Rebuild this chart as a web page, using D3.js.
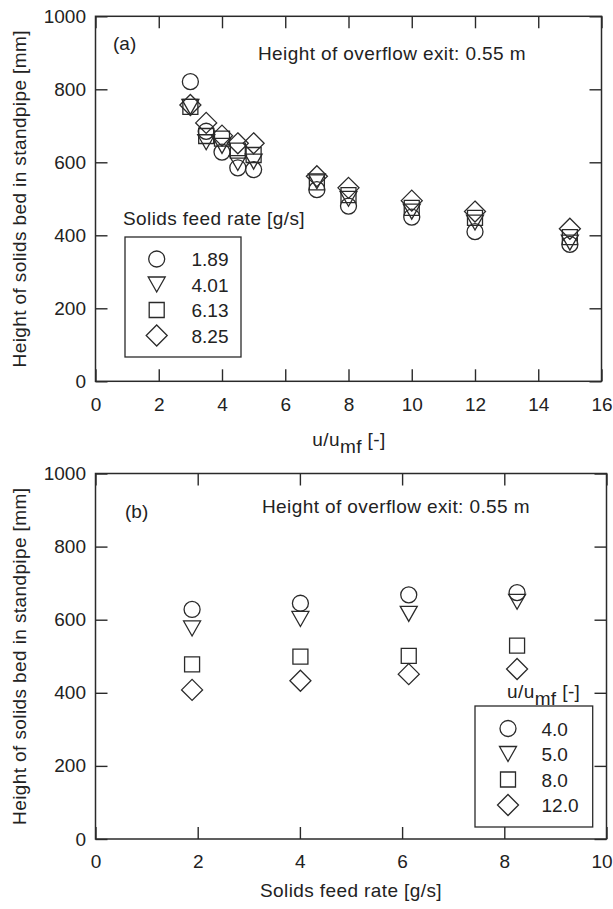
<!DOCTYPE html>
<html>
<head>
	<style>
		body { margin: 0; background: #fff; }
		svg { display: block; }
		text { font-family: "Liberation Sans", Arial, sans-serif; fill: #222; }
		.lbl { letter-spacing: 0.4px; }
	</style>
	<script src="https://d3js.org/d3.v7.min.js"></script>
</head>
<body>
<div id="chart"></div>
<script>
	// panel (a): bed height vs u/umf, one series per solids feed rate
	var uRatio = [3, 3.5, 4, 4.5, 5, 7, 8, 10, 12, 15];
	var feedLabels = ["1.89", "4.01", "6.13", "8.25"];
	var heightA_189 = [821, 685, 628, 585, 580, 525, 480, 450, 410, 375];
	var heightA_401 = [752, 655, 645, 598, 602, 548, 500, 465, 435, 380];
	var heightA_613 = [752, 672, 665, 632, 620, 545, 510, 475, 448, 395];
	var heightA_825 = [757, 708, 673, 652, 652, 562, 530, 495, 465, 418];

	// panel (b): bed height vs feed rate, one series per u/umf
	var feedRate = [1.89, 4.01, 6.13, 8.25];
	var uLabels = ["4.0", "5.0", "8.0", "12.0"];
	var heightB_4 = [628, 645, 668, 674];
	var heightB_5 = [576, 602, 616, 649];
	var heightB_8 = [478, 499, 501, 529];
	var heightB_12 = [408, 433, 451, 465];

	var yTicks = [0, 200, 400, 600, 800, 1000];
	var xTicksA = [0, 2, 4, 6, 8, 10, 12, 14, 16];
	var xTicksB = [0, 2, 4, 6, 8, 10];

	var W = 613, H = 909;
	var ink = "#2a2a2a";
	var svg = d3.select("#chart").append("svg").attr("width", W).attr("height", H);

	// marker shapes, all hollow
	function shape(type) {
		if (type === "circle") return "M8,0A8,8 0 1,1 -8,0A8,8 0 1,1 8,0Z";
		if (type === "tri") return "M-8.5,-7.5L8.5,-7.5L0,7.5Z";
		if (type === "square") return "M-7.5,-7.5H7.5V7.5H-7.5Z";
		return "M0,-10.5L10.5,0L0,10.5L-10.5,0Z";
	}
	var shapes = ["circle", "tri", "square", "diamond"];

	function panel(opt) {
		var g = svg.append("g");
		var x = d3.scaleLinear().domain(opt.xDomain).range([opt.left, opt.right]);
		var y = d3.scaleLinear().domain([0, 1000]).range([opt.bottom, opt.top]);

		// inward ticks on all four sides
		g.append("g").attr("transform", "translate(0," + opt.bottom + ")")
			.call(d3.axisBottom(x).tickValues(opt.xTicks).tickSize(-12).tickPadding(16).tickFormat(d3.format("d")));
		g.append("g").attr("transform", "translate(0," + opt.top + ")")
			.call(d3.axisTop(x).tickValues(opt.xTicks).tickSize(-12).tickFormat(function() { return ""; }));
		g.append("g").attr("transform", "translate(" + opt.left + ",0)")
			.call(d3.axisLeft(y).tickValues(yTicks).tickSize(-12).tickPadding(9.5).tickFormat(d3.format("d")));
		g.append("g").attr("transform", "translate(" + opt.right + ",0)")
			.call(d3.axisRight(y).tickValues(yTicks).tickSize(-12).tickFormat(function() { return ""; }));
		g.selectAll(".domain").remove();
		g.selectAll(".tick line").attr("stroke", ink).attr("stroke-width", 1.4);
		g.selectAll(".tick text").attr("font-size", 19).attr("fill", ink)
			.style("font-family", '"Liberation Sans", Arial, sans-serif');
		// keep the last x label inside the page edge
		if (opt.lastLabelShift) {
			g.selectAll(".tick text").filter(function(d) { return d === opt.xDomain[1]; })
				.attr("dx", opt.lastLabelShift);
		}

		g.append("rect")
			.attr("x", opt.left).attr("y", opt.top)
			.attr("width", opt.right - opt.left).attr("height", opt.bottom - opt.top)
			.attr("fill", "none").attr("stroke", ink).attr("stroke-width", 1.5);

		// y title
		g.append("text").attr("class", "lbl")
			.attr("transform", "translate(26," + (opt.top + opt.bottom) / 2 + ") rotate(-90)")
			.attr("text-anchor", "middle").attr("font-size", 19)
			.text("Height of solids bed in standpipe [mm]");

		// series
		opt.series.forEach(function(vals, i) {
			g.append("g").selectAll("path").data(vals).join("path")
				.attr("d", shape(shapes[i]))
				.attr("transform", function(d, j) { return "translate(" + x(opt.xs[j]) + "," + y(d) + ")"; })
				.attr("fill", "none").attr("stroke", ink).attr("stroke-width", 1.3);
		});

		// annotations
		g.append("text").attr("x", opt.tagX).attr("y", opt.tagY).attr("font-size", 19).text(opt.tag);
		g.append("text").attr("class", "lbl").attr("x", opt.noteX).attr("y", opt.noteY)
			.attr("font-size", 19).text("Height of overflow exit: 0.55 m");

		// legend
		var L = opt.legend;
		g.append("rect").attr("x", L.x0).attr("y", L.y0).attr("width", L.x1 - L.x0).attr("height", L.y1 - L.y0)
			.attr("fill", "#fff").attr("stroke", ink).attr("stroke-width", 1.3);
		L.labels.forEach(function(lab, i) {
			var yy = L.firstY + i * 25.5;
			g.append("path").attr("d", shape(shapes[i]))
				.attr("transform", "translate(" + L.symX + "," + yy + ")")
				.attr("fill", "none").attr("stroke", ink).attr("stroke-width", 1.3);
			g.append("text").attr("x", L.textX).attr("y", yy + 7).attr("font-size", 19).text(lab);
		});
		return g;
	}

	function uumf(sel, x, y, anchor) {
		var t = sel.append("text").attr("class", "lbl").attr("x", x).attr("y", y)
			.attr("font-size", 19).attr("text-anchor", anchor);
		t.append("tspan").text("u/u");
		t.append("tspan").attr("dy", 7).text("mf");
		t.append("tspan").attr("dy", -7).text(" [-]");
	}

	var ga = panel({
		xDomain: [0, 16], xTicks: xTicksA, xs: uRatio,
		left: 95.5, right: 601.5, top: 16.3, bottom: 381.3,
		series: [heightA_189, heightA_401, heightA_613, heightA_825],
		tag: "(a)", tagX: 113, tagY: 50, noteX: 258, noteY: 60,
		legend: { x0: 125, y0: 237, x1: 241, y1: 357, symX: 156.7, textX: 191.5, firstY: 259, labels: feedLabels }
	});
	ga.append("text").attr("class", "lbl").attr("x", 123).attr("y", 225).attr("font-size", 19)
		.text("Solids feed rate [g/s]");
	uumf(ga, 349, 446, "middle");

	var gb = panel({
		xDomain: [0, 10], xTicks: xTicksB, xs: feedRate, lastLabelShift: -5,
		left: 95.5, right: 606.5, top: 473.5, bottom: 839,
		series: [heightB_4, heightB_5, heightB_8, heightB_12],
		tag: "(b)", tagX: 125, tagY: 518, noteX: 262, noteY: 513,
		legend: { x0: 475, y0: 706, x1: 592.7, y1: 827, symX: 508, textX: 541.5, firstY: 728.5, labels: uLabels }
	});
	uumf(gb, 507, 698, "start");
	gb.append("text").attr("class", "lbl").attr("x", 351).attr("y", 897).attr("font-size", 19)
		.attr("text-anchor", "middle").text("Solids feed rate [g/s]");
</script>
</body>
</html>
